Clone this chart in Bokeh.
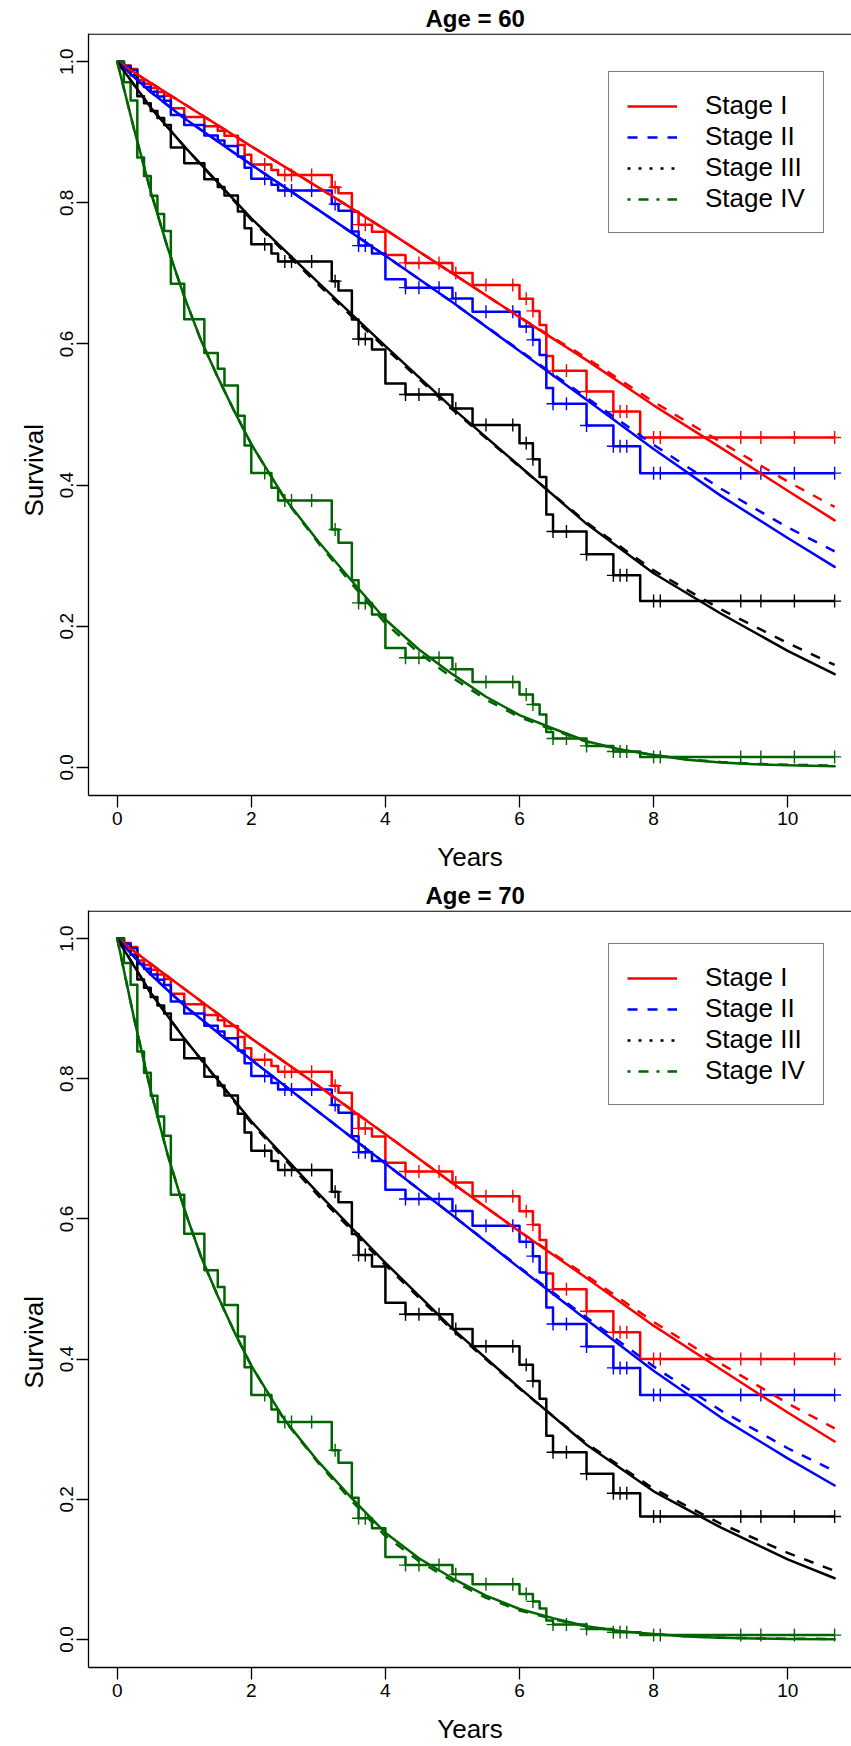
import numpy as np
from bokeh.plotting import figure
from bokeh.models import Range1d, Span, Legend, LegendItem, PrintfTickFormatter, FixedTicker, Title
from bokeh.layouts import column
from bokeh.embed import file_html
from bokeh.resources import INLINE

# ---------------- data ----------------
event_years = [0.1, 0.2, 0.3, 0.4, 0.5, 0.6, 0.7, 0.8, 1.0, 1.3, 1.5, 1.6, 1.8, 1.9, 2.0, 2.3, 2.4,
               3.2, 3.3, 3.5, 3.6, 3.8, 4.0, 4.3, 5.0, 5.3, 6.0, 6.2, 6.3, 6.4, 6.5, 7.0, 7.4, 7.8]
censor_years = [2.2, 2.5, 2.6, 2.9, 3.25, 3.6, 3.7, 4.3, 4.5, 4.8, 5.05, 5.5, 5.9, 6.1, 6.2, 6.5, 6.7,
                7.0, 7.4, 7.5, 7.6, 8.0, 8.1, 9.3, 9.6, 10.1, 10.7]

km_stage1_age60 = [0.9947, 0.9898, 0.9740, 0.9687, 0.9627, 0.9571, 0.9518, 0.9341, 0.9215, 0.9085, 0.9022, 0.8952,
                   0.8820, 0.8681, 0.8543, 0.8464, 0.8393, 0.8221, 0.8137, 0.7873, 0.7691, 0.7591, 0.7259, 0.7149,
                   0.7007, 0.6834, 0.6642, 0.6468, 0.6268, 0.5830, 0.5619, 0.5326, 0.5041, 0.4674]
km_stage2_age60 = [0.9939, 0.9883, 0.9702, 0.9641, 0.9573, 0.9508, 0.9447, 0.9246, 0.9102, 0.8955, 0.8884, 0.8805,
                   0.8655, 0.8498, 0.8343, 0.8255, 0.8175, 0.7982, 0.7888, 0.7594, 0.7394, 0.7283, 0.6918, 0.6798,
                   0.6643, 0.6455, 0.6246, 0.6058, 0.5844, 0.5376, 0.5153, 0.4844, 0.4549, 0.4169]
km_stage3_age60 = [0.9900, 0.9808, 0.9512, 0.9413, 0.9303, 0.9201, 0.9103, 0.8785, 0.8560, 0.8333, 0.8223, 0.8103,
                   0.7877, 0.7641, 0.7412, 0.7283, 0.7168, 0.6890, 0.6757, 0.6346, 0.6071, 0.5921, 0.5439, 0.5284,
                   0.5086, 0.4850, 0.4593, 0.4367, 0.4115, 0.3584, 0.3342, 0.3018, 0.2720, 0.2355]
km_stage4_age60 = [0.9709, 0.9449, 0.8642, 0.8380, 0.8099, 0.7841, 0.7600, 0.6852, 0.6350, 0.5871, 0.5649, 0.5410,
                   0.4981, 0.4559, 0.4171, 0.3963, 0.3782, 0.3370, 0.3183, 0.2650, 0.2330, 0.2165, 0.1690, 0.1552,
                   0.1389, 0.1209, 0.1031, 0.0890, 0.0748, 0.0500, 0.0408, 0.0303, 0.0223, 0.0147]

km_stage1_age70 = [0.9936, 0.9878, 0.9688, 0.9624, 0.9553, 0.9486, 0.9422, 0.9213, 0.9062, 0.8909, 0.8835, 0.8753,
                   0.8597, 0.8433, 0.8272, 0.8181, 0.8098, 0.7899, 0.7801, 0.7498, 0.7291, 0.7176, 0.6800, 0.6676,
                   0.6518, 0.6324, 0.6110, 0.5918, 0.5699, 0.5221, 0.4995, 0.4683, 0.4384, 0.4002]
km_stage2_age70 = [0.9927, 0.9860, 0.9642, 0.9569, 0.9488, 0.9411, 0.9338, 0.9100, 0.8929, 0.8756, 0.8672, 0.8579,
                   0.8404, 0.8221, 0.8040, 0.7938, 0.7846, 0.7624, 0.7516, 0.7180, 0.6952, 0.6827, 0.6417, 0.6283,
                   0.6112, 0.5903, 0.5674, 0.5469, 0.5237, 0.4736, 0.4501, 0.4179, 0.3874, 0.3488]
km_stage3_age70 = [0.9879, 0.9769, 0.9416, 0.9298, 0.9167, 0.9046, 0.8930, 0.8556, 0.8293, 0.8028, 0.7902, 0.7762,
                   0.7502, 0.7233, 0.6972, 0.6827, 0.6697, 0.6386, 0.6238, 0.5783, 0.5484, 0.5321, 0.4804, 0.4639,
                   0.4431, 0.4185, 0.3919, 0.3688, 0.3433, 0.2908, 0.2672, 0.2364, 0.2086, 0.1754]
km_stage4_age70 = [0.9651, 0.9341, 0.8388, 0.8084, 0.7758, 0.7461, 0.7186, 0.6343, 0.5789, 0.5266, 0.5027, 0.4773,
                   0.4321, 0.3884, 0.3489, 0.3281, 0.3102, 0.2699, 0.2520, 0.2021, 0.1730, 0.1585, 0.1175, 0.1061,
                   0.0929, 0.0786, 0.0649, 0.0543, 0.0441, 0.0271, 0.0212, 0.0148, 0.0103, 0.0062]

fit_years = [0, 0.5, 1, 2, 3, 4, 5, 6, 7, 8, 9, 10, 10.7]
fit_stage1_age60 = [1.0, 0.970, 0.940, 0.880, 0.822, 0.762, 0.700, 0.638, 0.577, 0.513, 0.453, 0.392, 0.350]
alt_stage1_age60 = [1.0, 0.970, 0.940, 0.880, 0.822, 0.762, 0.700, 0.638, 0.580, 0.518, 0.461, 0.405, 0.369]
fit_stage2_age60 = [1.0, 0.957, 0.920, 0.854, 0.790, 0.725, 0.659, 0.590, 0.521, 0.451, 0.385, 0.325, 0.284]
alt_stage2_age60 = [1.0, 0.957, 0.920, 0.854, 0.790, 0.725, 0.659, 0.591, 0.524, 0.457, 0.395, 0.340, 0.306]
fit_stage3_age60 = [1.0, 0.935, 0.880, 0.778, 0.687, 0.597, 0.509, 0.427, 0.345, 0.275, 0.218, 0.165, 0.132]
alt_stage3_age60 = [1.0, 0.935, 0.880, 0.776, 0.684, 0.594, 0.507, 0.426, 0.347, 0.279, 0.224, 0.176, 0.145]

fit_stage1_age70 = [1.0, 0.9640, 0.9282, 0.8574, 0.7898, 0.7209, 0.6509, 0.5821, 0.5158, 0.4477, 0.3854, 0.3239, 0.2825]
alt_stage1_age70 = [1.0, 0.9640, 0.9282, 0.8574, 0.7898, 0.7209, 0.6509, 0.5821, 0.5190, 0.4530, 0.3937, 0.3368, 0.3011]
fit_stage2_age70 = [1.0, 0.9485, 0.9045, 0.8270, 0.7529, 0.6790, 0.6053, 0.5298, 0.4561, 0.3834, 0.3169, 0.2584, 0.2197]
alt_stage2_age70 = [1.0, 0.9485, 0.9045, 0.8270, 0.7529, 0.6790, 0.6053, 0.5309, 0.4593, 0.3895, 0.3268, 0.2728, 0.2403]
fit_stage3_age70 = [1.0, 0.9223, 0.8574, 0.7392, 0.6364, 0.5374, 0.4435, 0.3589, 0.2777, 0.2114, 0.1598, 0.1142, 0.0873]
alt_stage3_age70 = [1.0, 0.9223, 0.8574, 0.7369, 0.6330, 0.5341, 0.4414, 0.3579, 0.2796, 0.2150, 0.1651, 0.1235, 0.0978]

fit_years_stage4 = [0, 0.25, 0.5, 0.75, 1.0, 1.25, 1.5, 1.75, 2.0, 2.5, 3.0, 3.5, 4.0, 4.5, 5.0, 5.5, 6.0, 6.5,
                    7.0, 7.5, 8.0, 8.5, 9.0, 9.5, 10.0, 10.7]
fit_stage4_age60 = [1.0, 0.905, 0.816, 0.737, 0.667, 0.605, 0.553, 0.504, 0.458, 0.381, 0.320, 0.264, 0.2095, 0.167,
                    0.132, 0.100, 0.074, 0.055, 0.037, 0.0253, 0.0175, 0.0108, 0.0068, 0.0043, 0.0027, 0.0014]
alt_stage4_age60 = [1.0, 0.905, 0.816, 0.737, 0.667, 0.605, 0.553, 0.504, 0.458, 0.380, 0.318, 0.260, 0.204, 0.162,
                    0.127, 0.096, 0.071, 0.053, 0.036, 0.0250, 0.0175, 0.0112, 0.0074, 0.0050, 0.0035, 0.0025]
fit_stage4_age70 = [1.0, 0.8868, 0.7829, 0.6925, 0.6141, 0.5461, 0.4900, 0.4382, 0.3906, 0.3129, 0.2536, 0.2012,
                    0.1523, 0.1159, 0.0873, 0.0625, 0.0435, 0.0304, 0.0189, 0.0119, 0.0077, 0.0043, 0.0025, 0.0014,
                    0.0008, 0.0004]
alt_stage4_age70 = [1.0, 0.8868, 0.7829, 0.6925, 0.6141, 0.5461, 0.4900, 0.4382, 0.3906, 0.3119, 0.2517, 0.1975,
                    0.1475, 0.1118, 0.0834, 0.0595, 0.0414, 0.0291, 0.0183, 0.0118, 0.0077, 0.0045, 0.0027, 0.0017,
                    0.0011, 0.0007]

x_ticks = [0, 2, 4, 6, 8, 10]
y_ticks = [0.0, 0.2, 0.4, 0.6, 0.8, 1.0]
stage_labels = ["Stage I", "Stage II", "Stage III", "Stage IV"]
stage_colors = ["#FF0000", "#0000FF", "#000000", "#006400"]
legend_dashes = ["solid", "10 10", "3 8", "3 8 10 8"]
x_label = "Years"
y_label = "Survival"
FONT = "Liberation Sans"

# frame geometry (pixels)
FRAME_LEFT = 88
X0_PX = 116.7          # pixel of year 0
PX_PER_YEAR = 67.05
X_START = -(X0_PX - FRAME_LEFT) / PX_PER_YEAR
X_END = (851 - X0_PX) / PX_PER_YEAR


def panel(title, km_list, fit_list, alt_list, height, border_bottom):
    p = figure(width=851, height=height,
               x_range=Range1d(X_START, X_END), y_range=Range1d(-0.04, 1.04),
               output_backend="svg", toolbar_location=None,
               min_border_left=FRAME_LEFT, min_border_right=0, min_border_top=33,
               min_border_bottom=border_bottom, outline_line_color=None)
    p.xgrid.visible = False
    p.ygrid.visible = False

    p.title.text = title
    p.title.align = "left"
    p.title.offset = 337
    p.title.standoff = 3
    p.title.text_font = FONT
    p.title.text_font_size = "24px"
    p.title.text_font_style = "bold"
    p.title.text_color = "black"

    for ax in (p.xaxis[0], p.yaxis[0]):
        ax.axis_line_color = "black"
        ax.axis_line_width = 1.3
        ax.major_tick_line_color = "black"
        ax.major_tick_line_width = 1.3
        ax.major_tick_out = 12
        ax.major_tick_in = 0
        ax.minor_tick_line_color = None
        ax.major_label_text_font = FONT
        ax.major_label_text_font_size = "19px"
        ax.major_label_text_color = "black"

    p.xaxis.ticker = FixedTicker(ticks=x_ticks)
    p.xaxis.major_label_standoff = 4
    p.xaxis.axis_label = x_label
    p.xaxis.axis_label_standoff = 14
    p.xaxis.axis_label_text_font = FONT
    p.xaxis.axis_label_text_font_size = "26px"
    p.xaxis.axis_label_text_font_style = "normal"
    p.xaxis.axis_label_text_color = "black"

    p.yaxis.ticker = FixedTicker(ticks=y_ticks)
    p.yaxis.formatter = PrintfTickFormatter(format="%.1f")
    p.yaxis.major_label_orientation = "parallel"
    p.yaxis.major_label_standoff = 3

    # y-axis title: set in the left margin, a little below the frame centre as in the reference
    ytitle = Title(text=y_label, align="left", offset=279, standoff=18,
                   text_font=FONT, text_font_size="26px", text_font_style="normal", text_color="black")
    p.add_layout(ytitle, "left")

    p.add_layout(Span(location=1.039, dimension="width", line_color="black", line_width=1.3))

    idx = np.searchsorted(np.array(event_years), np.array(censor_years), side="right") - 1
    for i in range(4):
        col = stage_colors[i]
        km = km_list[i]
        xs = [0.0] + event_years + [censor_years[-1]]
        ys = [1.0] + km + [km[-1]]
        p.step(xs, ys, mode="after", line_color=col, line_width=2.5, line_join="round")
        cy = [1.0 if j < 0 else km[j] for j in idx]
        p.scatter(censor_years, cy, marker="cross", size=13, line_color=col, line_width=1.4)

    for i in range(4):
        col = stage_colors[i]
        ft = fit_years_stage4 if i == 3 else fit_years
        p.line(ft, fit_list[i], line_color=col, line_width=2.5, line_join="round", line_cap="round")
        p.line(ft, alt_list[i], line_color=col, line_width=2.5, line_dash="10 10")

    dummies = []
    for i in range(4):
        r = p.line(x=[float("nan")], y=[float("nan")], line_color=stage_colors[i], line_width=2.5,
                   line_dash=legend_dashes[i])
        dummies.append(r)
    items = [LegendItem(label=stage_labels[i], renderers=[dummies[i]]) for i in range(4)]
    leg = Legend(items=items, location=(520, 562), margin=0, padding=18, spacing=0,
                 glyph_width=50, glyph_height=30, label_height=30, label_standoff=28,
                 label_text_font=FONT, label_text_font_size="26px", label_text_color="black",
                 border_line_color="black", border_line_width=1.2,
                 background_fill_color="white", background_fill_alpha=1.0)
    p.add_layout(leg)
    return p


p1 = panel("Age = 60",
           [km_stage1_age60, km_stage2_age60, km_stage3_age60, km_stage4_age60],
           [fit_stage1_age60, fit_stage2_age60, fit_stage3_age60, fit_stage4_age60],
           [alt_stage1_age60, alt_stage2_age60, alt_stage3_age60, alt_stage4_age60],
           877, 82)
p2 = panel("Age = 70",
           [km_stage1_age70, km_stage2_age70, km_stage3_age70, km_stage4_age70],
           [fit_stage1_age70, fit_stage2_age70, fit_stage3_age70, fit_stage4_age70],
           [alt_stage1_age70, alt_stage2_age70, alt_stage3_age70, alt_stage4_age70],
           869, 74)

layout = column(p1, p2, spacing=0)
open("out.html", "w").write(file_html(layout, INLINE, title="Survival by stage"))
